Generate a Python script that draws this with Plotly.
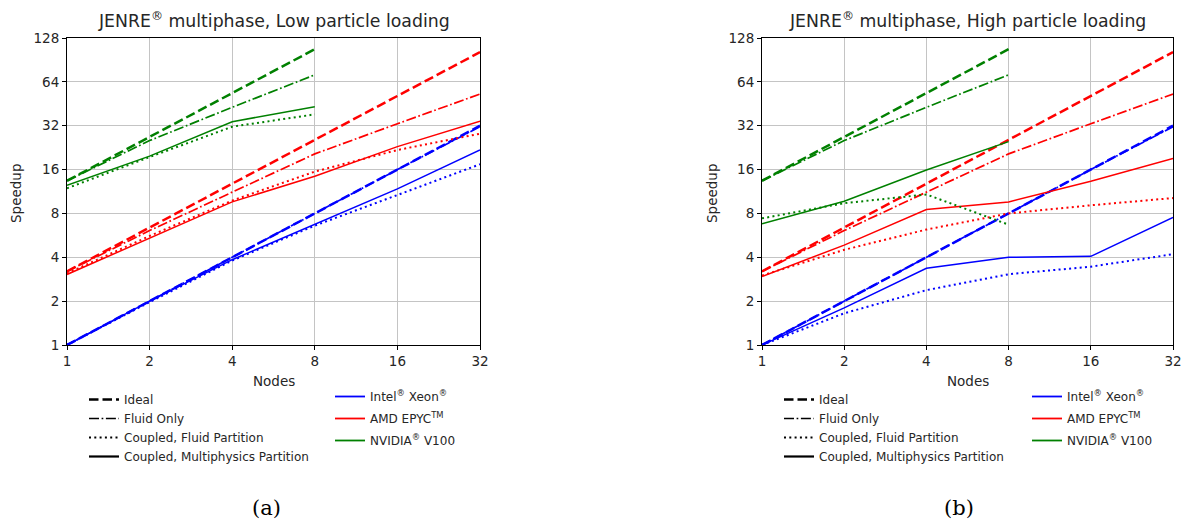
import plotly.graph_objects as go

# ---------------- data ----------------
nodes_cpu = [1, 2, 4, 8, 16, 32]
nodes_gpu = [1, 2, 4, 8]

# Ideal scaling (same in both panels)
intel_ideal = [1, 2, 4, 8, 16, 32]
amd_ideal = [3.2, 6.4, 12.8, 25.6, 51.2, 102.4]
nvidia_ideal = [13.4, 26.8, 53.6, 107.2]

# Fluid only (same in both panels)
intel_fluid = [1, 2, 4, 8, 16, 31.5]
amd_fluid = [3.2, 6.1, 11.2, 20.5, 33.0, 52.8]
nvidia_fluid = [13.4, 25.3, 42.8, 71.5]

# Low particle loading
low_intel_cfp = [1, 1.97, 3.8, 6.6, 10.7, 17.4]
low_intel_cmp = [1, 2.0, 3.85, 6.7, 11.8, 21.8]
low_amd_cfp = [3.1, 5.6, 9.8, 15.5, 21.8, 28.2]
low_amd_cmp = [3.05, 5.4, 9.6, 14.4, 23.0, 34.3]
low_nvidia_cfp = [11.9, 19.5, 31.5, 38.3]
low_nvidia_cmp = [12.5, 19.8, 34.1, 43.2]

# High particle loading
high_intel_cfp = [1, 1.65, 2.38, 3.06, 3.45, 4.2]
high_intel_cmp = [1, 1.8, 3.36, 4.0, 4.06, 7.5]
high_amd_cfp = [3.0, 4.5, 6.2, 8.0, 9.1, 10.2]
high_amd_cmp = [2.95, 4.85, 8.5, 9.6, 13.3, 19.1]
high_nvidia_cfp = [7.4, 9.4, 10.8, 6.7]
high_nvidia_cmp = [6.8, 9.7, 15.9, 24.9]

x_ticks = [1, 2, 4, 8, 16, 32]
y_ticks = [1, 2, 4, 8, 16, 32, 64, 128]

titles = ["JENRE<sup>®</sup> multiphase, Low particle loading",
          "JENRE<sup>®</sup> multiphase, High particle loading"]
style_names = ["Ideal", "Fluid Only", "Coupled, Fluid Partition",
               "Coupled, Multiphysics Partition"]
proc_names = ["Intel<sup>®</sup> Xeon<sup>®</sup>", "AMD EPYC<sup>TM</sup>",
              "NVIDIA<sup>®</sup> V100"]
proc_colors = ["#0000ff", "#ff0000", "#008000"]

# ---------------- styles ----------------
STY = {
    "ideal": dict(width=2.5, dash="9.5px,4px"),
    "fluid": dict(width=1.7, dash="10px,2.6px,1.7px,2.6px"),
    "cfp": dict(width=2, dash="2px,3.3px"),
    "cmp": dict(width=1.5, dash="solid"),
}

fig = go.Figure()

panels = [
    ("x", "y", {
        "Intel": (nodes_cpu, intel_ideal, intel_fluid, low_intel_cfp, low_intel_cmp),
        "AMD": (nodes_cpu, amd_ideal, amd_fluid, low_amd_cfp, low_amd_cmp),
        "NVIDIA": (nodes_gpu, nvidia_ideal, nvidia_fluid, low_nvidia_cfp, low_nvidia_cmp),
    }),
    ("x2", "y2", {
        "Intel": (nodes_cpu, intel_ideal, intel_fluid, high_intel_cfp, high_intel_cmp),
        "AMD": (nodes_cpu, amd_ideal, amd_fluid, high_amd_cfp, high_amd_cmp),
        "NVIDIA": (nodes_gpu, nvidia_ideal, nvidia_fluid, high_nvidia_cfp, high_nvidia_cmp),
    }),
]

for xa_name, ya_name, data in panels:
    for (name, (xs, ideal, fluid, cfp, cmp_)), col in zip(data.items(), proc_colors):
        for key, ys in (("ideal", ideal), ("fluid", fluid), ("cfp", cfp), ("cmp", cmp_)):
            fig.add_trace(go.Scatter(
                x=xs, y=ys, mode="lines", xaxis=xa_name, yaxis=ya_name,
                line=dict(color=col, **STY[key]), showlegend=False,
                hoverinfo="skip"))

# ---------------- legend-only entries ----------------
style_keys = ["ideal", "fluid", "cfp", "cmp"]
for lg_style, lg_proc in (("legend", "legend2"), ("legend3", "legend4")):
    for nm, key in zip(style_names, style_keys):
        st = dict(STY[key])
        if key == "cmp":
            st["width"] = 2.2
        fig.add_trace(go.Scatter(x=[None], y=[None], mode="lines", name=nm,
                                 line=dict(color="black", **st),
                                 legend=lg_style, showlegend=True))
    for nm, col in zip(proc_names, proc_colors):
        fig.add_trace(go.Scatter(x=[None], y=[None], mode="lines", name=nm,
                                 line=dict(color=col, width=1.8),
                                 legend=lg_proc, legendgroup=lg_proc + nm,
                                 showlegend=True))

# ---------------- layout ----------------
# Body margin is removed by a post script, so figure pixels = window pixels.
FONT = "DejaVu Sans"
TXT = "#262626"
W, H = 1182, 522
PL, PR, PT, PB = 67, 1173, 38, 345  # plot-area edges in window pixels
L, T = PL, PT
R = W - PR
B = H - PB
PW = W - L - R
PH = H - T - B


def px_x(p):
    return (p - PL) / PW


def px_y(p):
    return (PB - p) / PH


def axis_common():
    return dict(
        showline=True, linecolor="black", linewidth=1, mirror=True,
        showgrid=True, gridcolor="#c4c4c4", gridwidth=1,
        ticks="outside", ticklen=4, tickcolor="black", tickwidth=1,
        tickfont=dict(family=FONT, size=13.5, color=TXT),
        zeroline=False, automargin=False, ticklabeloverflow="allow",
    )


xa = dict(type="log", range=[0, 1.50515], tickvals=x_ticks,
          ticktext=[str(v) for v in x_ticks], **axis_common())
ya = dict(type="log", range=[0, 2.10721], tickvals=y_ticks,
          ticktext=[str(v) for v in y_ticks], **axis_common())

d1 = [0, px_x(480)]
d2 = [px_x(762), 1]

leg_common = dict(bgcolor="rgba(0,0,0,0)", borderwidth=0,
                  font=dict(family=FONT, size=12, color=TXT),
                  yanchor="top", xanchor="left",
                  itemclick=False, itemdoubleclick=False)

fig.update_layout(
    width=W, height=H,
    margin=dict(l=L, r=R, t=T, b=B, autoexpand=False),
    paper_bgcolor="white", plot_bgcolor="white",
    xaxis=dict(domain=d1, anchor="y", **xa),
    yaxis=dict(domain=[0, 1], anchor="x", **ya),
    xaxis2=dict(domain=d2, anchor="y2", **xa),
    yaxis2=dict(domain=[0, 1], anchor="x2", **ya),
    legend=dict(x=px_x(84), y=px_y(385), tracegroupgap=0, **leg_common),
    legend2=dict(x=px_x(330), y=px_y(382), tracegroupgap=3, **leg_common),
    legend3=dict(x=px_x(779), y=px_y(385), tracegroupgap=0, **leg_common),
    legend4=dict(x=px_x(1027), y=px_y(382), tracegroupgap=3, **leg_common),
    showlegend=True,
)

ann = []
for i, (d, t) in enumerate(zip((d1, d2), titles)):
    cx = (d[0] + d[1]) / 2
    ann.append(dict(text=t, x=cx, y=px_y(20), xref="paper", yref="paper",
                    showarrow=False, xanchor="center", yanchor="middle",
                    font=dict(family=FONT, size=17.3, color=TXT)))
    ann.append(dict(text="Nodes", x=cx, y=px_y(381), xref="paper", yref="paper",
                    showarrow=False, xanchor="center", yanchor="middle",
                    font=dict(family=FONT, size=13.5, color=TXT)))
    sx = 16 if i == 0 else 712
    ann.append(dict(text="Speedup", x=px_x(sx), y=px_y(194), xref="paper",
                    yref="paper", showarrow=False, textangle=-90,
                    xanchor="center", yanchor="middle",
                    font=dict(family=FONT, size=13.5, color=TXT)))
    lx = 266 if i == 0 else 959
    ann.append(dict(text="(a)" if i == 0 else "(b)", x=px_x(lx), y=px_y(508),
                    xref="paper", yref="paper", showarrow=False,
                    xanchor="center", yanchor="middle",
                    font=dict(family="DejaVu Serif", size=21, color="black")))
fig.update_layout(annotations=ann)

fig.write_html(
    "out.html",
    config={"displayModeBar": False},
    post_script="document.body.style.margin='0px';"
                "document.body.style.overflow='hidden';",
)
